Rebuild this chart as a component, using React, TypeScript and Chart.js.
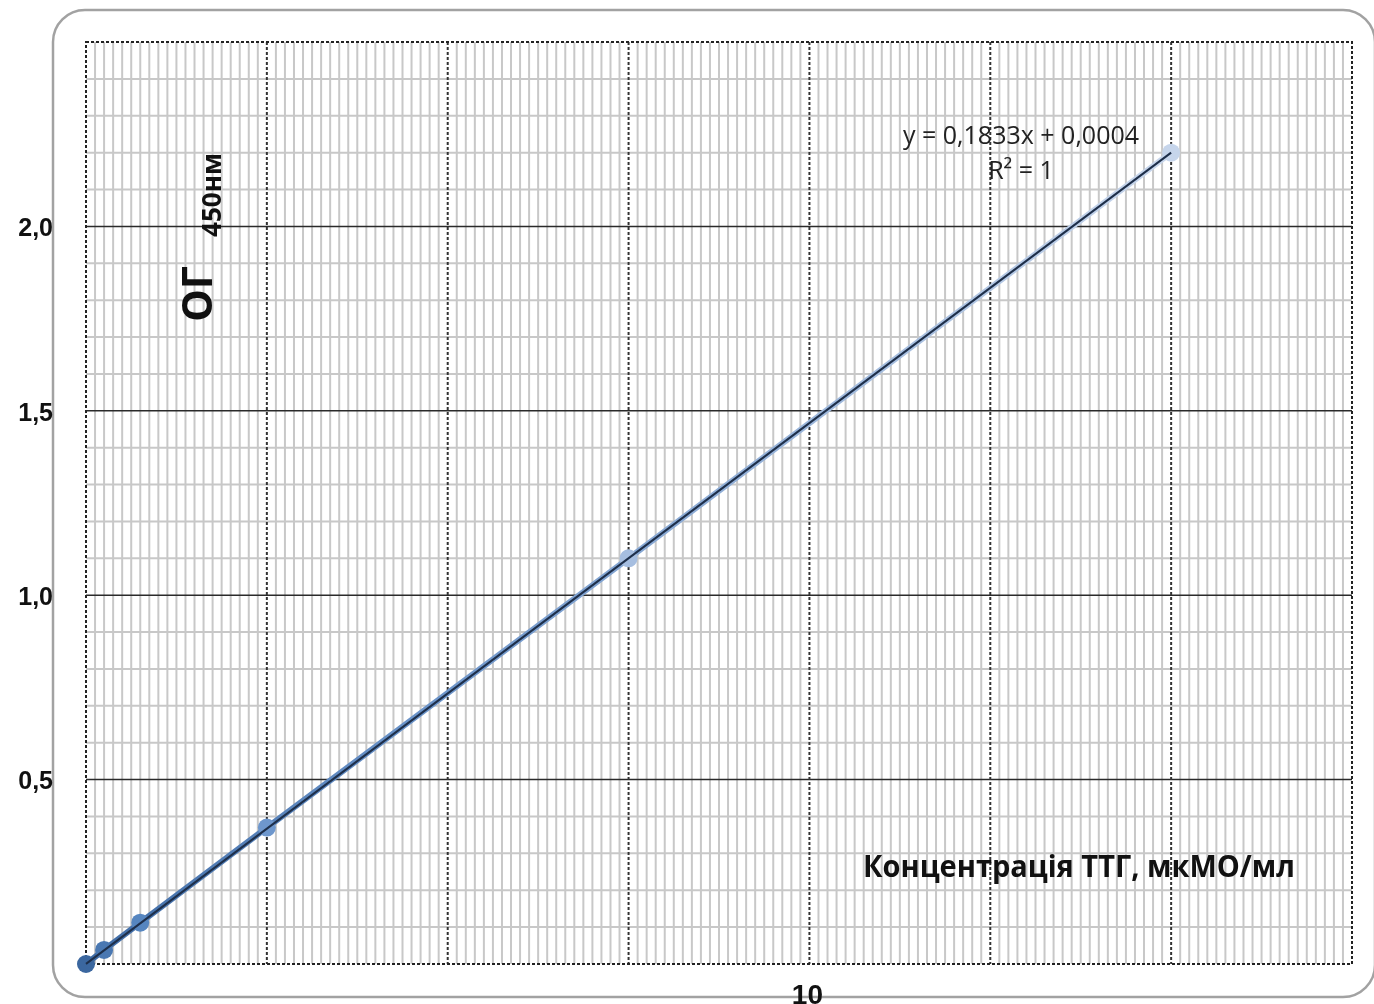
import React, { useEffect, useRef } from "react";
import { Chart, registerables } from "chart.js";

Chart.register(...registerables);

// Standard concentrations (x) and optical density (y)
const xValues = [0, 0.2, 0.6, 2, 6, 12];
const yValues = [0, 0.038, 0.112, 0.37, 1.1, 2.2];
const pointColors = ["#3b679f", "#4a78b2", "#5686c0", "#6e97cd", "#a6bee0", "#c6d5eb"];

// Trend line endpoints
const trendX = [0, 12];
const trendY = [0.0004, 2.2];

// Tick labels
const yTickValues = [0.5, 1, 1.5, 2];
const yTickLabels = ["0,5", "1,0", "1,5", "2,0"];
const xTickValues = [8];
const xTickLabels = ["10"];

const X_MAX = 14;
const Y_MAX = 2.5;

const equationText = "y = 0,1833x + 0,0004";
const r2Text = "R² = 1";
const xTitle = "Концентрація ТТГ, мкМО/мл";
const yTitleMain = "ОГ";
const yTitleSub = "450нм";

const framePlugin = {
  id: "frame",
  beforeDraw(chart: any) {
    const ctx = chart.ctx;
    ctx.save();
    ctx.fillStyle = "#ffffff";
    ctx.fillRect(0, 0, chart.width, chart.height);
    const x = 53, y = 10, w = 1374 - 53 + 1, h = 997 - 10, r = 32;
    ctx.strokeStyle = "#a2a2a2";
    ctx.lineWidth = 2.5;
    ctx.beginPath();
    ctx.moveTo(x + r, y);
    ctx.lineTo(x + w - r, y);
    ctx.arcTo(x + w, y, x + w, y + r, r);
    ctx.lineTo(x + w, y + h - r);
    ctx.arcTo(x + w, y + h, x + w - r, y + h, r);
    ctx.lineTo(x + r, y + h);
    ctx.arcTo(x, y + h, x, y + h - r, r);
    ctx.lineTo(x, y + r);
    ctx.arcTo(x, y, x + r, y, r);
    ctx.closePath();
    ctx.stroke();
    ctx.restore();
  },
  beforeDatasetsDraw(chart: any) {
    const ctx = chart.ctx;
    const xs = chart.scales.x;
    const ys = chart.scales.y;
    const { left, right, top, bottom } = chart.chartArea;
    ctx.save();
    ctx.strokeStyle = "#c8c8c8";
    ctx.lineWidth = 2;
    ctx.setLineDash([]);
    for (let i = 1; i < X_MAX * 10; i++) {
      if (i % 20 === 0) continue;
      const px = xs.getPixelForValue(i / 10);
      ctx.beginPath();
      ctx.moveTo(px, top);
      ctx.lineTo(px, bottom);
      ctx.stroke();
    }
    for (let i = 1; i < Y_MAX * 10; i++) {
      if (i % 5 === 0) continue;
      const py = ys.getPixelForValue(i / 10);
      ctx.beginPath();
      ctx.moveTo(left, py);
      ctx.lineTo(right, py);
      ctx.stroke();
    }
    ctx.strokeStyle = "#2a2a2a";
    ctx.lineWidth = 1.5;
    for (let i = 5; i < Y_MAX * 10; i += 5) {
      const py = ys.getPixelForValue(i / 10);
      ctx.beginPath();
      ctx.moveTo(left, py);
      ctx.lineTo(right, py);
      ctx.stroke();
    }
    ctx.strokeStyle = "#333333";
    ctx.lineWidth = 2;
    ctx.setLineDash([3, 2]);
    for (let i = 20; i < X_MAX * 10; i += 20) {
      const px = xs.getPixelForValue(i / 10);
      ctx.beginPath();
      ctx.moveTo(px, top);
      ctx.lineTo(px, bottom);
      ctx.stroke();
    }
    ctx.strokeStyle = "#222222";
    ctx.lineWidth = 2;
    ctx.beginPath();
    ctx.rect(left, top, right - left, bottom - top);
    ctx.stroke();
    ctx.restore();
  },
  afterDraw(chart: any) {
    const ctx = chart.ctx;
    const xs = chart.scales.x;
    const ys = chart.scales.y;
    ctx.save();
    ctx.fillStyle = "#111111";
    ctx.font = "bold 25px 'Liberation Sans', Arial, sans-serif";
    ctx.textAlign = "right";
    ctx.textBaseline = "middle";
    yTickValues.forEach((v, i) => {
      ctx.fillText(yTickLabels[i], 53, ys.getPixelForValue(v) + 3);
    });
    ctx.font = "bold 28px 'Liberation Sans', Arial, sans-serif";
    ctx.textAlign = "center";
    ctx.textBaseline = "middle";
    xTickValues.forEach((v, i) => {
      ctx.fillText(xTickLabels[i], xs.getPixelForValue(v) - 2, 996);
    });
    ctx.font = "bold 30px 'Open Sans', sans-serif";
    ctx.textAlign = "left";
    ctx.textBaseline = "middle";
    ctx.fillText(xTitle, 863, 868, 432);
    ctx.font = "25px 'Open Sans', sans-serif";
    ctx.fillStyle = "#222222";
    ctx.textAlign = "center";
    ctx.fillText(equationText, 1021, 137, 246);
    ctx.fillText(r2Text, 1021, 172);
    ctx.fillStyle = "#111111";
    ctx.save();
    ctx.translate(200, 294);
    ctx.rotate(-Math.PI / 2);
    ctx.font = "bold 41px 'Open Sans', sans-serif";
    ctx.textAlign = "center";
    ctx.textBaseline = "middle";
    ctx.fillText(yTitleMain, 0, 0);
    ctx.restore();
    ctx.save();
    ctx.translate(214, 195);
    ctx.rotate(-Math.PI / 2);
    ctx.font = "bold 26px 'Open Sans', sans-serif";
    ctx.textAlign = "center";
    ctx.textBaseline = "middle";
    ctx.fillText(yTitleSub, 0, 0, 92);
    ctx.restore();
    ctx.restore();
  },
};

export default function App() {
  const ref = useRef<HTMLCanvasElement | null>(null);
  useEffect(() => {
    if (!ref.current) return;
    const chart = new Chart(ref.current, {
      type: "scatter",
      data: {
        datasets: [
          {
            data: xValues.map((x, i) => ({ x, y: yValues[i] })),
            showLine: true,
            borderWidth: 6,
            borderColor: (c: any) => {
              const area = c.chart.chartArea;
              if (!area) return "#6f97cc";
              const g = c.chart.ctx.createLinearGradient(area.left, 0, c.chart.scales.x.getPixelForValue(12), 0);
              g.addColorStop(0, "#3f6ca6");
              g.addColorStop(0.3, "#6a93c9");
              g.addColorStop(1, "#c9d7ec");
              return g;
            },
            pointRadius: 9,
            pointBackgroundColor: pointColors,
            pointBorderWidth: 0,
            pointBorderColor: pointColors,
            clip: false as any,
            order: 2,
          },
          {
            data: trendX.map((x, i) => ({ x, y: trendY[i] })),
            showLine: true,
            borderWidth: 2,
            borderColor: "#1e2f4a",
            pointRadius: 0,
            clip: false as any,
            order: 1,
          },
        ],
      },
      options: {
        animation: false,
        responsive: false,
        devicePixelRatio: 1,
        layout: { padding: { left: 86, top: 42, right: 22, bottom: 40 } },
        plugins: { legend: { display: false }, tooltip: { enabled: false } },
        scales: {
          x: { type: "linear", min: 0, max: X_MAX, display: false },
          y: { type: "linear", min: 0, max: Y_MAX, display: false },
        },
      },
      plugins: [framePlugin],
    });
    return () => chart.destroy();
  }, []);
  return (
    <div style={{ position: "absolute", left: 0, top: 0, width: 1374, height: 1004 }}>
      <canvas ref={ref} width={1374} height={1004} style={{ display: "block" }} />
    </div>
  );
}
